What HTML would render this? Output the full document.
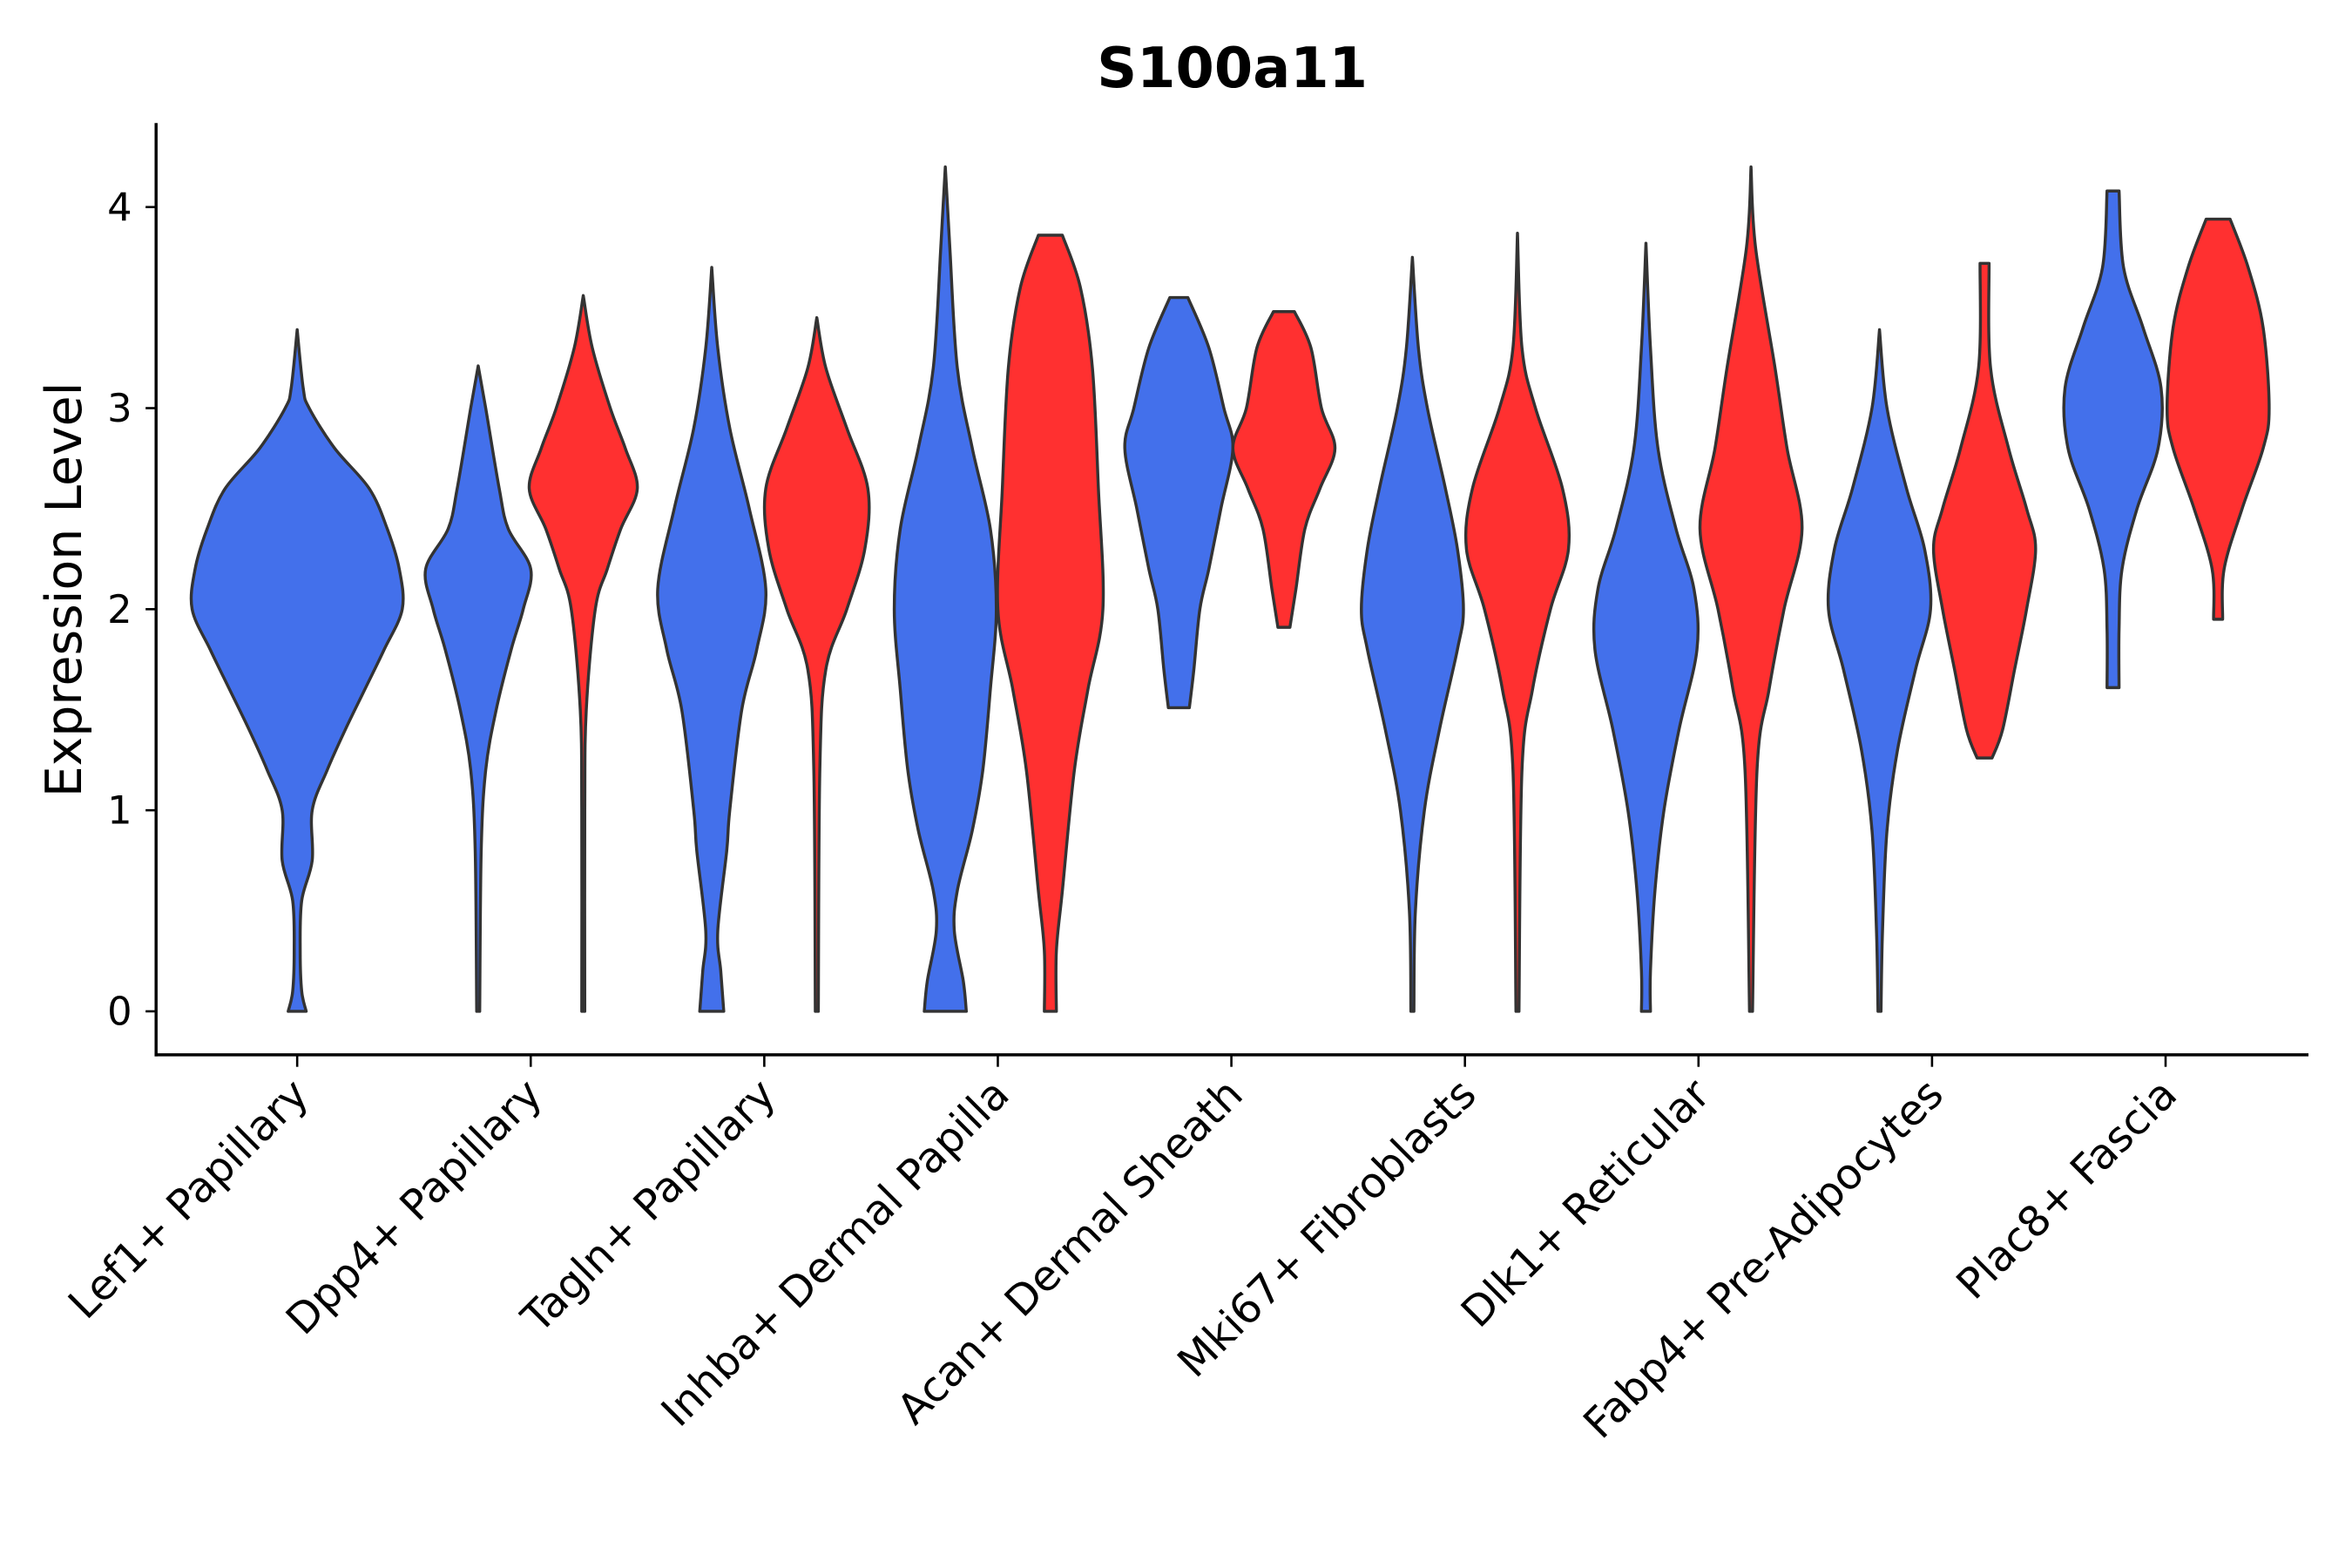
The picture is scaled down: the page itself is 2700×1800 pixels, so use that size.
<!DOCTYPE html>
<html><head><meta charset="utf-8"><style>html,body{margin:0;padding:0;background:#fff}svg{display:block}</style></head>
<body>
<svg id="chart" width="2700" height="1800" viewBox="0 0 1567 1045" preserveAspectRatio="none" xmlns="http://www.w3.org/2000/svg" font-family="'DejaVu Sans', 'Liberation Sans', sans-serif">
<text x="821" y="58" text-anchor="middle" font-size="37" font-weight="bold">S100a11</text>
<text transform="translate(54,393) rotate(-90)" text-anchor="middle" font-size="33">Expression Level</text>
<g id="violins"></g>
<g id="axes"></g>
</svg>
<script>
const categories = ["Lef1+ Papillary","Dpp4+ Papillary","Tagln+ Papillary","Inhba+ Dermal Papilla","Acan+ Dermal Sheath","Mki67+ Fibroblasts","Dlk1+ Reticular","Fabp4+ Pre-Adipocytes","Plac8+ Fascia"];
const yTicks = [0,1,2,3,4];
// violin profiles: [expression value, density half-width]
const blueViolins = [
 [[3.39,0],[3.1,4],[3.0,8],[2.8,25],[2.6,48],[2.4,60],[2.2,68],[2.0,70],[1.8,58],[1.6,45],[1.4,32],[1.2,20],[1.0,10],[0.75,10],[0.55,3],[0.3,2],[0.1,3],[0,6]],
 [[3.21,0],[3.0,5],[2.6,14],[2.4,20],[2.2,35],[2.0,30],[1.8,22],[1.5,12],[1.2,5],[0.8,2],[0,1]],
 [[3.7,0],[3.3,4],[2.9,12],[2.5,25],[2.1,36],[1.8,30],[1.5,20],[1.0,12],[0.8,10],[0.4,4],[0.2,6],[0,8]],
 [[4.2,0],[3.8,3],[3.2,8],[2.8,18],[2.4,30],[2.0,34],[1.6,30],[1.2,25],[0.9,18],[0.6,8],[0.4,6],[0.15,12],[0,14]],
 [[3.55,6],[3.3,20],[3.0,30],[2.8,36],[2.5,28],[2.2,20],[2.0,14],[1.7,10],[1.51,7]],
 [[3.75,0],[3.3,4],[3.0,10],[2.6,22],[2.3,30],[2.0,34],[1.8,30],[1.4,18],[1.0,8],[0.5,2],[0,1]],
 [[3.82,0],[3.3,3],[2.8,8],[2.4,20],[2.1,32],[1.8,34],[1.4,22],[1.0,12],[0.6,6],[0.2,3],[0,3]],
 [[3.39,0],[3.0,5],[2.6,18],[2.3,30],[2.0,34],[1.7,24],[1.3,12],[0.9,5],[0.4,2],[0,1]],
 [[4.08,4],[3.7,7],[3.4,20],[3.1,32],[2.8,30],[2.5,16],[2.2,6],[1.9,4],[1.61,4]]
];
const redViolins = [
 null,
 [[3.56,0],[3.3,6],[3.0,18],[2.8,28],[2.6,36],[2.4,25],[2.2,16],[2.0,8],[1.5,2],[1.0,1],[0,1]],
 [[3.45,0],[3.2,6],[2.9,20],[2.6,34],[2.3,32],[2.0,20],[1.7,6],[1.2,2],[0,1]],
 [[3.86,8],[3.6,20],[3.2,28],[2.6,32],[2.0,35],[1.6,25],[1.2,16],[0.6,8],[0.3,4],[0,4]],
 [[3.48,7],[3.3,18],[3.0,25],[2.8,34],[2.6,24],[2.4,14],[2.1,8],[1.91,4]],
 [[3.87,0],[3.3,3],[3.0,12],[2.6,30],[2.3,34],[2.0,22],[1.6,10],[1.2,3],[0,1]],
 [[4.2,0],[3.8,3],[3.2,16],[2.8,24],[2.4,34],[2.0,22],[1.6,12],[1.2,4],[0,1]],
 [[3.72,3],[3.2,4],[2.8,16],[2.5,28],[2.3,34],[2.0,28],[1.7,20],[1.4,12],[1.26,5]],
 [[3.94,8],[3.7,20],[3.4,30],[3.0,34],[2.8,30],[2.5,16],[2.2,4],[1.95,3]]
];
const NS='http://www.w3.org/2000/svg';
const x0=104,x1=1538,yTop=82,yBot=703;
const yScale=v=>674-v*134;
const xCenter=i=>198+155.6*i;
function mk(tag,attrs,parent){const e=document.createElementNS(NS,tag);for(const k in attrs)e.setAttribute(k,attrs[k]);parent.appendChild(e);return e;}
function smooth(pts){let d='M'+pts[0][0]+','+pts[0][1];for(let i=0;i<pts.length-1;i++){const p0=pts[Math.max(0,i-1)],p1=pts[i],p2=pts[i+1],p3=pts[Math.min(pts.length-1,i+2)];const c1=[p1[0]+(p2[0]-p0[0])/6,p1[1]+(p2[1]-p0[1])/6],c2=[p2[0]-(p3[0]-p1[0])/6,p2[1]-(p3[1]-p1[1])/6];d+=' C'+c1[0]+','+c1[1]+' '+c2[0]+','+c2[1]+' '+p2[0]+','+p2[1];}return d;}
function violinPath(prof,cx){const right=prof.map(p=>[cx+p[1],yScale(p[0])]);const left=prof.slice().reverse().map(p=>[cx-p[1],yScale(p[0])]);
let d=smooth(right);const b=prof[prof.length-1];d+=' L'+(cx-b[1])+','+yScale(b[0]);const ls=smooth(left);d+=' '+ls.replace(/^M[^ ]+/,'');d+=' Z';return d;}
const vg=document.getElementById('violins');
categories.forEach((c,i)=>{
  const cx=xCenter(i);
  const hasRed=!!redViolins[i];
  const bx=hasRed?cx-35:cx;
  const bp=mk('path',{d:violinPath(blueViolins[i],bx),fill:'#4370EB',stroke:'#333','stroke-width':2,'stroke-linejoin':'round'},vg);
  
  
  if(hasRed){const rp=mk('path',{d:violinPath(redViolins[i],cx+35),fill:'#FF3030',stroke:'#333','stroke-width':2,'stroke-linejoin':'round'},vg);
  
  }
});
const ag=document.getElementById('axes');
const ya=mk('line',{x1:x0,y1:yTop,x2:x0,y2:yBot+1,stroke:'#000','stroke-width':2},ag);


const xa=mk('line',{x1:x0-1,y1:yBot,x2:x1,y2:yBot,stroke:'#000','stroke-width':2},ag);


yTicks.forEach(t=>{const y=yScale(t);
 const tk=mk('line',{x1:x0-7,y1:y,x2:x0,y2:y,stroke:'#000','stroke-width':1.5},ag);
 
 
 const tl=mk('text',{x:x0-16,y:y+9,'text-anchor':'end','font-size':26},ag);tl.textContent=t;
 
 
});
categories.forEach((c,i)=>{const x=xCenter(i);
 const tk=mk('line',{x1:x,y1:yBot,x2:x,y2:yBot+8,stroke:'#000','stroke-width':1.5},ag);
 
 
 const tl=mk('text',{transform:'translate('+(x+9)+','+(yBot+28)+') rotate(-45)','text-anchor':'end','font-size':28},ag);tl.textContent=c;
 
 
});
</script>
</body></html>
